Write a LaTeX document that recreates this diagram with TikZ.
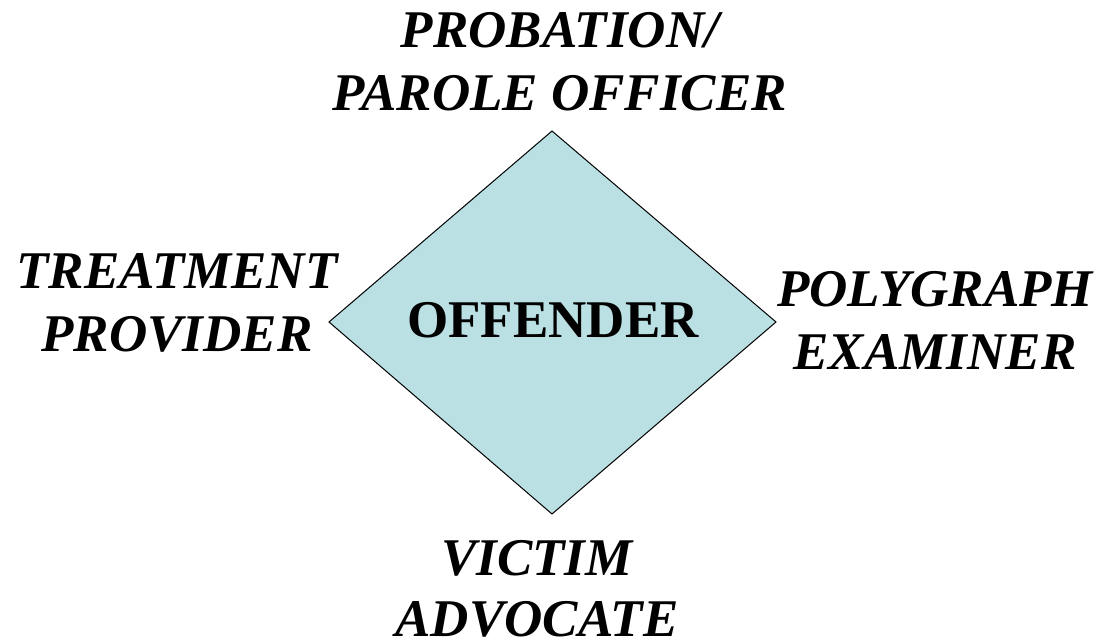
\documentclass[tikz,border=0pt]{standalone}
\usepackage{fontspec}
\setmainfont{Liberation Serif}
\definecolor{diamondfill}{HTML}{BAE0E4}
\begin{document}
\begin{tikzpicture}[x=1pt,y=-1pt,
  role/.style={align=center,inner sep=0pt,font=\fontsize{53}{63}\selectfont\bfseries\itshape},
  centre/.style={inner sep=0pt,font=\fontsize{53}{63}\selectfont\bfseries}]
\useasboundingbox (0,0) rectangle (1100,643);
\coordinate (dtop) at (552,131);
\coordinate (dleft) at (329,322);
\coordinate (dright) at (776,322);
\coordinate (dbottom) at (552,514);
\draw[fill=diamondfill,line width=1pt] (dtop) -- (dright) -- (dbottom) -- (dleft) -- cycle;
\node[centre] (offender) at (553,320) {OFFENDER};
\node[role] (probation) at (560,62) {PROBATION/\\PAROLE OFFICER};
\node[role] (treatment) at (177,303) {TREATMENT\\PROVIDER};
\node[role] (polygraph) at (935,320) {POLYGRAPH\\EXAMINER};
\node[role,font=\fontsize{53}{61}\selectfont\bfseries\itshape] (victim) at (537,589) {VICTIM\\ADVOCATE};
\end{tikzpicture}
\end{document}
